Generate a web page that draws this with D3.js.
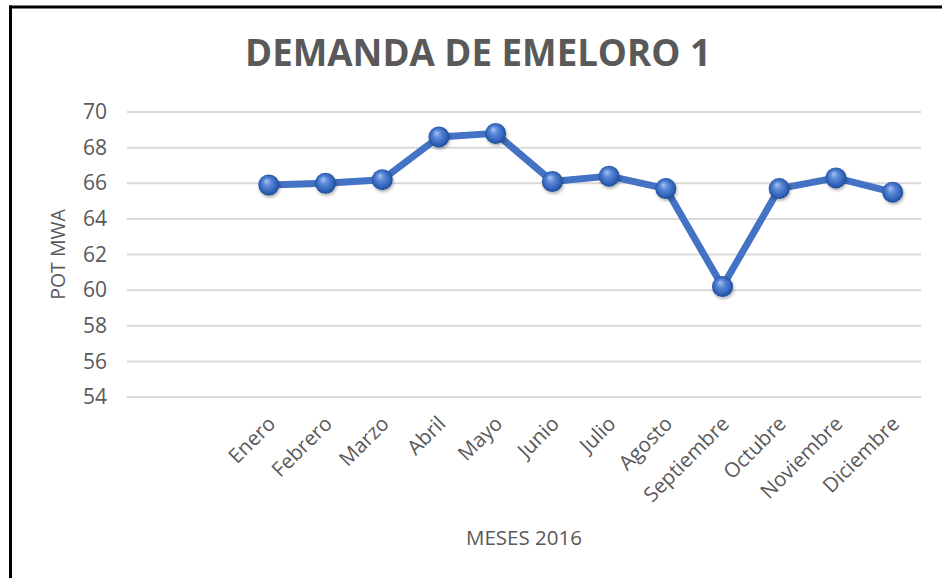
<!DOCTYPE html>
<html>
<head>
<meta charset="utf-8">
<script src="https://cdn.jsdelivr.net/npm/d3@7"></script>
<style>
    body { margin: 0; background: #fff; }
    text { font-family: "Open Sans", sans-serif; fill: #595959; }
</style>
</head>
<body>
<svg id="chart"></svg>
<script>
// data
let months = ['', ' ', 'Enero', 'Febrero', 'Marzo', 'Abril', 'Mayo', 'Junio', 'Julio',
    'Agosto', 'Septiembre', 'Octubre', 'Noviembre', 'Diciembre'];
let demand = [null, null, 65.9, 66.0, 66.2, 68.6, 68.8, 66.1, 66.4, 65.7, 60.2, 65.7, 66.3, 65.5];
let yTicks = [54, 56, 58, 60, 62, 64, 66, 68, 70];
let title = 'DEMANDA DE EMELORO 1';
let yTitle = 'POT MWA';
let xTitle = 'MESES 2016';

let width = 942;
let height = 578;
let margin = {
    top: 112,
    bot: 181,
    left: 127,
    right: 21
};
let config = {
    margin: margin,
    bodyWidth: width - margin.left - margin.right,
    bodyHeight: height - margin.top - margin.bot,
    width: width,
    height: height
};

let svg = d3.select('#chart')
    .attr('width', width)
    .attr('height', height);

// border of the cropped screenshot (left + top only)
svg.append('line')
    .attr('x1', 10.5).attr('x2', 10.5)
    .attr('y1', 5.5).attr('y2', height)
    .attr('stroke', '#000').attr('stroke-width', 3);
svg.append('line')
    .attr('x1', 9).attr('x2', width)
    .attr('y1', 7).attr('y2', 7)
    .attr('stroke', '#000').attr('stroke-width', 3);

let defs = svg.append('defs');
let grad = defs.append('radialGradient')
    .attr('id', 'ball')
    .attr('cx', '50%').attr('cy', '50%').attr('r', '55%')
    .attr('fx', '38%').attr('fy', '30%');
grad.append('stop').attr('offset', '0%').attr('stop-color', '#a9c4f0');
grad.append('stop').attr('offset', '35%').attr('stop-color', '#5a88d8');
grad.append('stop').attr('offset', '75%').attr('stop-color', '#2f62b8');
grad.append('stop').attr('offset', '100%').attr('stop-color', '#1c4388');
let shadow = defs.append('filter').attr('id', 'shadow')
    .attr('x', '-50%').attr('y', '-50%').attr('width', '200%').attr('height', '200%');
shadow.append('feDropShadow')
    .attr('dx', 1).attr('dy', 2).attr('stdDeviation', 1.5)
    .attr('flood-color', '#000').attr('flood-opacity', 0.3);

let xScale = d3.scaleBand()
    .domain(months)
    .range([0, config.bodyWidth]);
let yScale = d3.scaleLinear()
    .domain([54, 70])
    .range([config.bodyHeight, 0]);

let body = svg.append('g')
    .attr('transform', `translate(${margin.left},${margin.top})`);

// gridlines
body.append('g')
    .selectAll('line')
    .data(yTicks)
    .join('line')
    .attr('x1', 0)
    .attr('x2', config.bodyWidth)
    .attr('y1', d => yScale(d))
    .attr('y2', d => yScale(d))
    .attr('stroke', '#d9d9d9')
    .attr('stroke-width', 2);

// y axis
let yAx = body.append('g')
    .call(d3.axisLeft(yScale).tickValues(yTicks).tickSize(0).tickPadding(20));
yAx.select('.domain').remove();
yAx.selectAll('text')
    .style('font-size', '21px')
    .attr('fill', '#595959');

// x axis
let xAx = body.append('g')
    .attr('transform', `translate(0,${config.bodyHeight})`)
    .call(d3.axisBottom(xScale).tickSize(0).tickPadding(0));
xAx.select('.domain').remove();
xAx.selectAll('text')
    .style('font-size', '20.5px')
    .attr('fill', '#595959')
    .attr('text-anchor', 'end')
    .attr('dy', 0)
    .attr('transform', 'translate(8,28) rotate(-45)');

// line
let points = months.map((m, i) => ({ m: m, v: demand[i] })).filter(d => d.v !== null);
let line = d3.line()
    .x(d => xScale(d.m) + xScale.bandwidth() / 2)
    .y(d => yScale(d.v));
body.append('path')
    .datum(points)
    .attr('d', line)
    .attr('fill', 'none')
    .attr('stroke', '#4472c4')
    .attr('stroke-width', 7)
    .attr('stroke-linejoin', 'round');

body.append('g')
    .selectAll('circle')
    .data(points)
    .join('circle')
    .attr('cx', d => xScale(d.m) + xScale.bandwidth() / 2)
    .attr('cy', d => yScale(d.v))
    .attr('r', 10.5)
    .attr('fill', 'url(#ball)')
    .attr('filter', 'url(#shadow)');

// titles
let t = svg.append('text')
    .attr('x', 478)
    .attr('y', 66)
    .attr('text-anchor', 'middle')
    .style('font-size', '30px')
    .style('font-weight', 'bold')
    .text(title);
// fit title to the width seen in the picture
let tw = t.node().getComputedTextLength();
t.style('font-size', (30 * 466 / tw) + 'px');

svg.append('text')
    .attr('transform', `translate(65,${margin.top + config.bodyHeight / 2}) rotate(-90)`)
    .attr('text-anchor', 'middle')
    .style('font-size', '19.5px')
    .text(yTitle);

svg.append('text')
    .attr('x', 524)
    .attr('y', 545)
    .attr('text-anchor', 'middle')
    .style('font-size', '20.5px')
    .text(xTitle);
</script>
</body>
</html>
